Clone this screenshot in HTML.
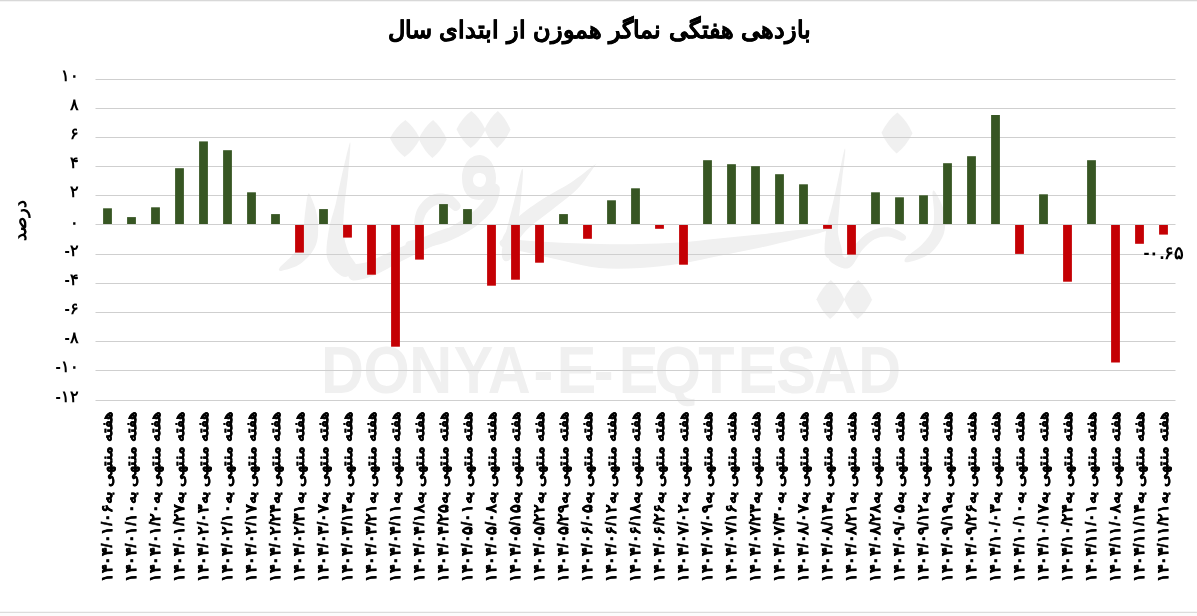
<!DOCTYPE html>
<html lang="fa"><head><meta charset="utf-8"><title>بازدهی هفتگی نماگر هموزن از ابتدای سال</title>
<style>
html,body{margin:0;padding:0;background:#fff}
body{width:1197px;height:616px;overflow:hidden;font-family:"Liberation Sans",sans-serif;color:#000}
#chart{position:absolute;left:0;top:0;width:1197px;height:616px;background:#fff;overflow:hidden}
#chart svg{position:absolute;left:0;top:0}
.title{position:absolute;left:0;width:1199.0px;top:9.5px;text-align:center;direction:rtl;font-weight:bold;font-size:24px;line-height:40px;white-space:nowrap;-webkit-text-stroke:0.4px #000;word-spacing:0.6px}
.yl{position:absolute;left:0;width:78.8px;text-align:right;direction:ltr;font-weight:bold;font-size:16px;line-height:16px;height:16px;white-space:nowrap}
.xl{position:absolute;top:410.5px;width:0;height:0}
.xl span{position:absolute;right:0;top:0;display:block;direction:rtl;white-space:nowrap;font-weight:bold;font-size:15px;line-height:16px;height:16px;transform-origin:100% 0;transform:rotate(-90deg) scaleX(1.07);-webkit-text-stroke:0.25px #000}
.xl b{font-weight:bold;-webkit-text-stroke:0.5px #000}
.txt{position:absolute;left:0;top:0;width:1197px;height:616px;filter:grayscale(1)}
.ytitle{position:absolute;left:10px;top:199.5px;width:0;height:0}
.ytitle span{position:absolute;right:0;top:0;display:block;direction:rtl;white-space:nowrap;font-weight:bold;font-size:18px;line-height:20px;height:20px;transform-origin:100% 0;transform:rotate(-90deg)}
.dl{position:absolute;left:1143.5px;top:242.5px;direction:ltr;font-weight:bold;font-size:18px;line-height:20px;white-space:nowrap}
</style></head><body>
<div id="chart">
<svg width="1197" height="616" viewBox="0 0 1197 616">
<rect x="0" y="0" width="1197" height="1" fill="#d8d8d8"/><rect x="0" y="1" width="1197" height="1" fill="#f4f4f4"/>
<rect x="0" y="612" width="1197" height="1" fill="#dcdcdc"/><rect x="0" y="611" width="1197" height="1" fill="#f6f6f6"/><rect x="0" y="613" width="1197" height="3" fill="#fcfcfc"/>
<g fill="#f0f0f0">
<path transform="translate(405.0 138.5) rotate(1)" d="M 0.0 -18.5 Q 9.3 -11.5 15.0 0.0 Q 9.3 11.5 0.0 18.5 Q -9.3 11.5 -15.0 0.0 Q -9.3 -11.5 0.0 -18.5 Z"/>
<path transform="translate(432.7 139.0) rotate(1)" d="M 0.0 -19.0 Q 8.7 -11.8 14.0 0.0 Q 8.7 11.8 0.0 19.0 Q -8.7 11.8 -14.0 0.0 Q -8.7 -11.8 0.0 -19.0 Z"/>
<path transform="translate(471.0 129.5) rotate(1)" d="M 0.0 -18.5 Q 9.0 -11.5 14.5 0.0 Q 9.0 11.5 0.0 18.5 Q -9.0 11.5 -14.5 0.0 Q -9.0 -11.5 0.0 -18.5 Z"/>
<path transform="translate(497.5 129.5) rotate(1)" d="M 0.0 -18.5 Q 8.1 -11.5 13.0 0.0 Q 8.1 11.5 0.0 18.5 Q -8.1 11.5 -13.0 0.0 Q -8.1 -11.5 0.0 -18.5 Z"/>
<path transform="translate(897.0 133.0) rotate(1)" d="M 0.0 -20.5 Q 9.6 -12.7 15.5 0.0 Q 9.6 12.7 0.0 20.5 Q -9.6 12.7 -15.5 0.0 Q -9.6 -12.7 0.0 -20.5 Z"/>
<path transform="translate(830.5 299.5) rotate(1)" d="M 0.0 -19.5 Q 8.7 -12.1 14.0 0.0 Q 8.7 12.1 0.0 19.5 Q -8.7 12.1 -14.0 0.0 Q -8.7 -12.1 0.0 -19.5 Z"/>
<path transform="translate(858.0 299.5) rotate(1)" d="M 0.0 -19.5 Q 8.7 -12.1 14.0 0.0 Q 8.7 12.1 0.0 19.5 Q -8.7 12.1 -14.0 0.0 Q -8.7 -12.1 0.0 -19.5 Z"/>
<path d="M 521.0 171.8 C 519.7 176.1 517.2 188.8 515.0 197.5 C 512.9 206.2 510.2 215.5 508.1 224.1 C 505.9 232.6 503.0 242.9 502.1 248.8 C 501.3 254.7 501.9 257.5 503.1 259.4 C 504.2 261.4 507.1 262.0 508.9 260.6 C 510.7 259.2 512.4 257.0 513.9 251.2 C 515.4 245.4 516.7 234.7 517.9 225.9 C 519.1 217.2 520.1 207.5 521.0 198.5 C 521.8 189.5 523.0 176.6 523.0 172.2 C 523.0 167.7 522.3 167.6 521.0 171.8 Z"/>
<path d="M 593.6 165.6 C 589.8 168.3 579.4 177.1 571.1 182.5 C 562.8 188.0 552.8 192.5 543.9 198.3 C 535.0 204.2 524.8 210.7 517.8 217.6 C 510.9 224.4 503.3 234.4 502.3 239.3 C 501.3 244.1 507.4 248.6 511.7 246.7 C 516.0 244.9 521.4 234.6 528.2 228.4 C 534.9 222.3 544.0 216.2 552.1 209.7 C 560.2 203.2 569.8 196.7 576.9 189.5 C 583.9 182.3 591.6 170.3 594.4 166.4 C 597.2 162.4 597.5 163.0 593.6 165.6 Z"/>
<path d="M 502.4 247.0 C 506.7 249.3 518.9 250.6 529.1 252.9 C 539.4 255.3 552.1 258.4 563.9 260.9 C 575.6 263.4 586.6 266.8 599.4 268.0 C 612.1 269.2 626.8 268.7 640.4 268.0 C 654.1 267.2 667.7 265.5 681.2 263.4 C 694.6 261.3 707.9 258.1 721.3 255.4 C 734.6 252.7 747.8 250.3 761.0 247.4 C 774.3 244.5 789.8 240.7 800.7 237.9 C 811.5 235.2 822.0 232.5 826.2 231.0 C 830.4 229.5 830.3 229.2 825.8 229.0 C 821.4 228.9 810.5 229.1 799.3 230.1 C 788.2 231.0 772.4 233.2 759.0 234.6 C 745.5 236.0 732.1 237.3 718.7 238.6 C 705.4 239.9 692.0 241.7 678.8 242.6 C 665.6 243.5 652.6 243.8 639.6 244.0 C 626.5 244.3 612.9 244.2 600.6 244.0 C 588.4 243.9 577.8 243.6 566.1 243.1 C 554.5 242.6 541.3 241.7 530.9 241.1 C 520.4 240.4 508.3 238.1 503.6 239.0 C 498.8 240.0 498.2 244.6 502.4 247.0 Z"/>
<path fill-rule="evenodd" d="M 480 155 C 490 156 496 167 496 178 C 496 191 489 200 479 200 C 468 200 462 191 462 178 C 462 166 469 155 480 155 Z M 479 173 C 475 173 473 176 473 180 C 473 184 476 187 480 187 C 484 187 486 183 486 179 C 486 175 483 173 479 173 Z"/>
<path d="M 490.3 184.4 C 487.6 186.6 487.3 195.2 483.6 200.4 C 479.9 205.7 474.1 211.2 468.0 215.8 C 462.0 220.5 454.3 225.0 447.4 228.6 C 440.5 232.1 433.4 235.0 426.7 237.2 C 420.1 239.3 410.5 239.7 407.5 241.5 C 404.4 243.4 404.9 247.6 408.5 248.5 C 412.2 249.3 421.9 248.3 429.3 246.8 C 436.6 245.3 444.8 242.9 452.6 239.4 C 460.4 236.0 469.0 231.5 476.0 226.2 C 482.9 220.8 490.5 214.0 494.4 207.6 C 498.4 201.1 500.4 191.4 499.7 187.6 C 499.0 183.7 493.0 182.3 490.3 184.4 Z"/>
<path d="M 419.9 229.8 C 421.9 227.4 423.6 217.7 426.3 213.5 C 429.0 209.4 432.8 206.5 436.1 205.1 C 439.5 203.7 443.0 204.2 446.3 205.2 C 449.5 206.2 453.1 211.2 455.5 211.1 C 457.9 211.1 461.5 207.6 460.5 204.9 C 459.5 202.2 454.5 196.4 449.7 194.8 C 445.0 193.1 437.2 192.7 431.9 194.9 C 426.5 197.2 420.6 202.9 417.7 208.5 C 414.7 214.0 413.7 224.6 414.1 228.2 C 414.5 231.8 417.9 232.2 419.9 229.8 Z"/>
<path d="M 450.3 227.8 C 445.1 228.1 431.9 233.8 422.6 237.5 C 413.3 241.2 403.4 246.0 394.2 250.1 C 385.0 254.2 375.0 259.3 367.4 261.9 C 359.8 264.6 351.3 263.1 348.6 266.1 C 345.9 269.1 347.4 278.2 351.4 279.9 C 355.4 281.5 364.5 279.1 372.6 276.1 C 380.6 273.1 390.6 266.5 399.8 261.9 C 408.9 257.3 418.4 252.8 427.4 248.5 C 436.4 244.2 449.9 239.6 453.7 236.2 C 457.5 232.7 455.5 227.6 450.3 227.8 Z"/>
<path d="M 348.9 145.9 C 347.5 150.6 344.3 164.8 342.0 174.5 C 339.8 184.3 337.8 194.8 335.6 204.3 C 333.3 213.8 329.8 222.5 328.5 231.7 C 327.2 240.9 325.1 252.1 327.6 259.6 C 330.1 267.1 338.8 275.5 343.6 276.8 C 348.4 278.1 355.6 271.3 356.4 267.2 C 357.2 263.1 350.5 258.2 348.4 252.4 C 346.2 246.5 344.2 240.1 343.5 232.3 C 342.8 224.5 343.7 215.2 344.4 205.7 C 345.2 196.2 347.0 185.4 348.0 175.5 C 348.9 165.6 350.2 151.1 350.3 146.1 C 350.5 141.2 350.2 141.1 348.9 145.9 Z"/>
<path d="M 307.5 196.1 C 306.5 199.8 305.4 210.8 304.5 218.0 C 303.6 225.2 303.8 233.5 301.9 239.6 C 300.0 245.7 296.5 250.1 292.8 254.7 C 289.2 259.3 281.7 264.6 279.9 267.3 C 278.1 270.0 278.5 271.4 282.1 270.7 C 285.6 270.0 295.5 267.7 301.2 263.3 C 306.8 258.9 313.4 252.0 316.1 244.4 C 318.8 236.9 318.4 226.1 317.5 218.0 C 316.6 209.9 312.2 199.5 310.5 195.9 C 308.8 192.2 308.5 192.4 307.5 196.1 Z"/>
<path d="M 843.8 151.9 C 842.6 156.5 839.9 170.9 838.0 179.7 C 836.2 188.4 834.5 195.8 832.5 204.5 C 830.5 213.1 827.1 223.1 826.0 231.8 C 824.9 240.5 823.4 252.7 826.0 256.7 C 828.7 260.6 840.0 259.4 842.0 255.3 C 844.0 251.3 838.4 240.5 838.0 232.2 C 837.6 223.9 838.8 214.2 839.5 205.5 C 840.1 196.9 841.0 189.2 842.0 180.3 C 842.9 171.4 844.9 156.9 845.2 152.1 C 845.5 147.4 845.0 147.3 843.8 151.9 Z"/>
<path d="M 829.2 259.9 C 831.2 263.3 842.9 269.9 848.4 268.3 C 853.9 266.7 857.9 254.9 862.3 250.1 C 866.7 245.2 870.6 241.3 875.0 239.0 C 879.4 236.8 883.9 236.2 888.6 236.5 C 893.2 236.8 900.1 241.0 902.9 240.8 C 905.6 240.6 907.4 237.4 905.1 235.2 C 902.9 233.0 895.1 228.2 889.4 227.5 C 883.7 226.8 876.6 228.2 871.0 231.0 C 865.4 233.7 859.9 239.5 855.7 243.9 C 851.5 248.4 848.7 257.0 845.6 257.7 C 842.4 258.4 839.5 247.7 836.8 248.1 C 834.1 248.5 827.3 256.5 829.2 259.9 Z"/>
<path d="M 932.5 193.4 C 932.3 196.7 934.1 206.4 934.0 212.5 C 934.0 218.6 934.3 224.7 932.3 230.0 C 930.3 235.4 926.4 239.9 922.0 244.5 C 917.5 249.2 908.0 254.9 905.7 257.8 C 903.5 260.8 904.2 262.9 908.3 262.2 C 912.3 261.4 924.1 258.1 930.0 253.5 C 935.9 248.8 941.3 241.0 943.7 234.0 C 946.0 227.0 945.3 218.4 944.0 211.5 C 942.6 204.6 937.4 195.6 935.5 192.6 C 933.5 189.6 932.8 190.1 932.5 193.4 Z"/>
</g>
<text transform="scale(0.9 1)" x="356.6 403.9 454.8 504.2 541.9 592.8 618.6 659.6 687.4 727.4 775.8 819.8 862.5 904.5 953.7" y="392.8" font-family="'Liberation Sans',sans-serif" font-weight="bold" font-size="66" fill="#f0f0f0">DONYA-E-EQTESAD</text>
<g fill="#cfcfcf">
<rect x="95.5" y="79" width="1080" height="1"/>
<rect x="95.5" y="108" width="1080" height="1"/>
<rect x="95.5" y="137" width="1080" height="1"/>
<rect x="95.5" y="166" width="1080" height="1"/>
<rect x="95.5" y="195" width="1080" height="1"/>
<rect x="95.5" y="224" width="1080" height="1"/>
<rect x="95.5" y="254" width="1080" height="1"/>
<rect x="95.5" y="283" width="1080" height="1"/>
<rect x="95.5" y="312" width="1080" height="1"/>
<rect x="95.5" y="341" width="1080" height="1"/>
<rect x="95.5" y="370" width="1080" height="1"/>
<rect x="95.5" y="400" width="1080" height="1"/>
</g>
<g>
<rect x="103.1" y="208.3" width="8.8" height="15.7" fill="#375623"/>
<rect x="127.1" y="217.1" width="8.8" height="6.9" fill="#375623"/>
<rect x="151.1" y="207.3" width="8.8" height="16.7" fill="#375623"/>
<rect x="175.1" y="168.2" width="8.8" height="55.8" fill="#375623"/>
<rect x="199.1" y="141.4" width="8.8" height="82.6" fill="#375623"/>
<rect x="223.1" y="150.2" width="8.8" height="73.8" fill="#375623"/>
<rect x="247.1" y="192.3" width="8.8" height="31.7" fill="#375623"/>
<rect x="271.1" y="214.1" width="8.8" height="9.9" fill="#375623"/>
<rect x="295.1" y="225" width="8.8" height="27.6" fill="#c40004"/>
<rect x="319.1" y="209.1" width="8.8" height="14.9" fill="#375623"/>
<rect x="343.1" y="225" width="8.8" height="12.6" fill="#c40004"/>
<rect x="367.1" y="225" width="8.8" height="49.7" fill="#c40004"/>
<rect x="391.1" y="225" width="8.8" height="121.7" fill="#c40004"/>
<rect x="415.1" y="225" width="8.8" height="34.6" fill="#c40004"/>
<rect x="439.1" y="204.1" width="8.8" height="19.9" fill="#375623"/>
<rect x="463.1" y="209.1" width="8.8" height="14.9" fill="#375623"/>
<rect x="487.1" y="225" width="8.8" height="60.7" fill="#c40004"/>
<rect x="511.1" y="225" width="8.8" height="54.7" fill="#c40004"/>
<rect x="535.1" y="225" width="8.8" height="37.7" fill="#c40004"/>
<rect x="559.1" y="214.1" width="8.8" height="9.9" fill="#375623"/>
<rect x="583.1" y="225" width="8.8" height="13.8" fill="#c40004"/>
<rect x="607.1" y="200.3" width="8.8" height="23.7" fill="#375623"/>
<rect x="631.1" y="188.3" width="8.8" height="35.7" fill="#375623"/>
<rect x="655.1" y="225" width="8.8" height="3.8" fill="#c40004"/>
<rect x="679.1" y="225" width="8.8" height="39.7" fill="#c40004"/>
<rect x="703.1" y="160.2" width="8.8" height="63.8" fill="#375623"/>
<rect x="727.1" y="164.2" width="8.8" height="59.8" fill="#375623"/>
<rect x="751.1" y="166.2" width="8.8" height="57.8" fill="#375623"/>
<rect x="775.1" y="174.2" width="8.8" height="49.8" fill="#375623"/>
<rect x="799.1" y="184.3" width="8.8" height="39.7" fill="#375623"/>
<rect x="823.1" y="225" width="8.8" height="3.8" fill="#c40004"/>
<rect x="847.1" y="225" width="8.8" height="29.6" fill="#c40004"/>
<rect x="871.1" y="192.3" width="8.8" height="31.7" fill="#375623"/>
<rect x="895.1" y="197.3" width="8.8" height="26.7" fill="#375623"/>
<rect x="919.1" y="195.3" width="8.8" height="28.7" fill="#375623"/>
<rect x="943.1" y="163.2" width="8.8" height="60.8" fill="#375623"/>
<rect x="967.1" y="156.2" width="8.8" height="67.8" fill="#375623"/>
<rect x="991.1" y="115.0" width="8.8" height="109.0" fill="#375623"/>
<rect x="1015.1" y="225" width="8.8" height="28.9" fill="#c40004"/>
<rect x="1039.1" y="194.3" width="8.8" height="29.7" fill="#375623"/>
<rect x="1063.1" y="225" width="8.8" height="56.7" fill="#c40004"/>
<rect x="1087.1" y="160.2" width="8.8" height="63.8" fill="#375623"/>
<rect x="1111.1" y="225" width="8.8" height="137.5" fill="#c40004"/>
<rect x="1135.1" y="225" width="8.8" height="18.8" fill="#c40004"/>
<rect x="1159.1" y="225" width="8.8" height="9.6" fill="#c40004"/>
</g>
</svg>
<div class="txt">
<div class="title">بازدهی هفتگی نماگر هموزن از ابتدای سال</div>
<div class="yl" style="top:67.9px">۱۰</div>
<div class="yl" style="top:96.9px">۸</div>
<div class="yl" style="top:125.9px">۶</div>
<div class="yl" style="top:154.9px">۴</div>
<div class="yl" style="top:183.9px">۲</div>
<div class="yl" style="top:215.3px">۰</div>
<div class="yl" style="top:242.9px">-۲</div>
<div class="yl" style="top:271.9px">-۴</div>
<div class="yl" style="top:300.9px">-۶</div>
<div class="yl" style="top:329.9px">-۸</div>
<div class="yl" style="top:358.9px">-۱۰</div>
<div class="yl" style="top:388.9px">-۱۲</div>
<div class="ytitle"><span>درصد</span></div>
<div class="dl">-۰.۶۵</div>
<div class="xl" style="left:98.8px"><span>هفته منتهی به<b>۱۴۰۴/۰۱/۰۶</b></span></div>
<div class="xl" style="left:122.8px"><span>هفته منتهی به<b>۱۴۰۴/۰۱/۱۰</b></span></div>
<div class="xl" style="left:146.8px"><span>هفته منتهی به<b>۱۴۰۴/۰۱/۲۰</b></span></div>
<div class="xl" style="left:170.8px"><span>هفته منتهی به<b>۱۴۰۴/۰۱/۲۷</b></span></div>
<div class="xl" style="left:194.8px"><span>هفته منتهی به<b>۱۴۰۴/۰۲/۰۳</b></span></div>
<div class="xl" style="left:218.8px"><span>هفته منتهی به<b>۱۴۰۴/۰۲/۱۰</b></span></div>
<div class="xl" style="left:242.8px"><span>هفته منتهی به<b>۱۴۰۴/۰۲/۱۷</b></span></div>
<div class="xl" style="left:266.8px"><span>هفته منتهی به<b>۱۴۰۴/۰۲/۲۴</b></span></div>
<div class="xl" style="left:290.8px"><span>هفته منتهی به<b>۱۴۰۴/۰۲/۳۱</b></span></div>
<div class="xl" style="left:314.8px"><span>هفته منتهی به<b>۱۴۰۴/۰۳/۰۷</b></span></div>
<div class="xl" style="left:338.8px"><span>هفته منتهی به<b>۱۴۰۴/۰۳/۱۳</b></span></div>
<div class="xl" style="left:362.8px"><span>هفته منتهی به<b>۱۴۰۴/۰۳/۲۱</b></span></div>
<div class="xl" style="left:386.8px"><span>هفته منتهی به<b>۱۴۰۴/۰۴/۱۱</b></span></div>
<div class="xl" style="left:410.8px"><span>هفته منتهی به<b>۱۴۰۴/۰۴/۱۸</b></span></div>
<div class="xl" style="left:434.8px"><span>هفته منتهی به<b>۱۴۰۴/۰۴/۲۵</b></span></div>
<div class="xl" style="left:458.8px"><span>هفته منتهی به<b>۱۴۰۴/۰۵/۰۱</b></span></div>
<div class="xl" style="left:482.8px"><span>هفته منتهی به<b>۱۴۰۴/۰۵/۰۸</b></span></div>
<div class="xl" style="left:506.8px"><span>هفته منتهی به<b>۱۴۰۴/۰۵/۱۵</b></span></div>
<div class="xl" style="left:530.8px"><span>هفته منتهی به<b>۱۴۰۴/۰۵/۲۲</b></span></div>
<div class="xl" style="left:554.8px"><span>هفته منتهی به<b>۱۴۰۴/۰۵/۲۹</b></span></div>
<div class="xl" style="left:578.8px"><span>هفته منتهی به<b>۱۴۰۴/۰۶/۰۵</b></span></div>
<div class="xl" style="left:602.8px"><span>هفته منتهی به<b>۱۴۰۴/۰۶/۱۲</b></span></div>
<div class="xl" style="left:626.8px"><span>هفته منتهی به<b>۱۴۰۴/۰۶/۱۸</b></span></div>
<div class="xl" style="left:650.8px"><span>هفته منتهی به<b>۱۴۰۴/۰۶/۲۶</b></span></div>
<div class="xl" style="left:674.8px"><span>هفته منتهی به<b>۱۴۰۴/۰۷/۰۲</b></span></div>
<div class="xl" style="left:698.8px"><span>هفته منتهی به<b>۱۴۰۴/۰۷/۰۹</b></span></div>
<div class="xl" style="left:722.8px"><span>هفته منتهی به<b>۱۴۰۴/۰۷/۱۶</b></span></div>
<div class="xl" style="left:746.8px"><span>هفته منتهی به<b>۱۴۰۴/۰۷/۲۳</b></span></div>
<div class="xl" style="left:770.8px"><span>هفته منتهی به<b>۱۴۰۴/۰۷/۳۰</b></span></div>
<div class="xl" style="left:794.8px"><span>هفته منتهی به<b>۱۴۰۴/۰۸/۰۷</b></span></div>
<div class="xl" style="left:818.8px"><span>هفته منتهی به<b>۱۴۰۴/۰۸/۱۴</b></span></div>
<div class="xl" style="left:842.8px"><span>هفته منتهی به<b>۱۴۰۴/۰۸/۲۱</b></span></div>
<div class="xl" style="left:866.8px"><span>هفته منتهی به<b>۱۴۰۴/۰۸/۲۸</b></span></div>
<div class="xl" style="left:890.8px"><span>هفته منتهی به<b>۱۴۰۴/۰۹/۰۵</b></span></div>
<div class="xl" style="left:914.8px"><span>هفته منتهی به<b>۱۴۰۴/۰۹/۱۲</b></span></div>
<div class="xl" style="left:938.8px"><span>هفته منتهی به<b>۱۴۰۴/۰۹/۱۹</b></span></div>
<div class="xl" style="left:962.8px"><span>هفته منتهی به<b>۱۴۰۴/۰۹/۲۶</b></span></div>
<div class="xl" style="left:986.8px"><span>هفته منتهی به<b>۱۴۰۴/۱۰/۰۳</b></span></div>
<div class="xl" style="left:1010.8px"><span>هفته منتهی به<b>۱۴۰۴/۱۰/۱۰</b></span></div>
<div class="xl" style="left:1034.8px"><span>هفته منتهی به<b>۱۴۰۴/۱۰/۱۷</b></span></div>
<div class="xl" style="left:1058.8px"><span>هفته منتهی به<b>۱۴۰۴/۱۰/۲۴</b></span></div>
<div class="xl" style="left:1082.8px"><span>هفته منتهی به<b>۱۴۰۴/۱۱/۰۱</b></span></div>
<div class="xl" style="left:1106.8px"><span>هفته منتهی به<b>۱۴۰۴/۱۱/۰۸</b></span></div>
<div class="xl" style="left:1130.8px"><span>هفته منتهی به<b>۱۴۰۴/۱۱/۱۴</b></span></div>
<div class="xl" style="left:1154.8px"><span>هفته منتهی به<b>۱۴۰۴/۱۱/۲۱</b></span></div>
</div>
</div></body></html>
